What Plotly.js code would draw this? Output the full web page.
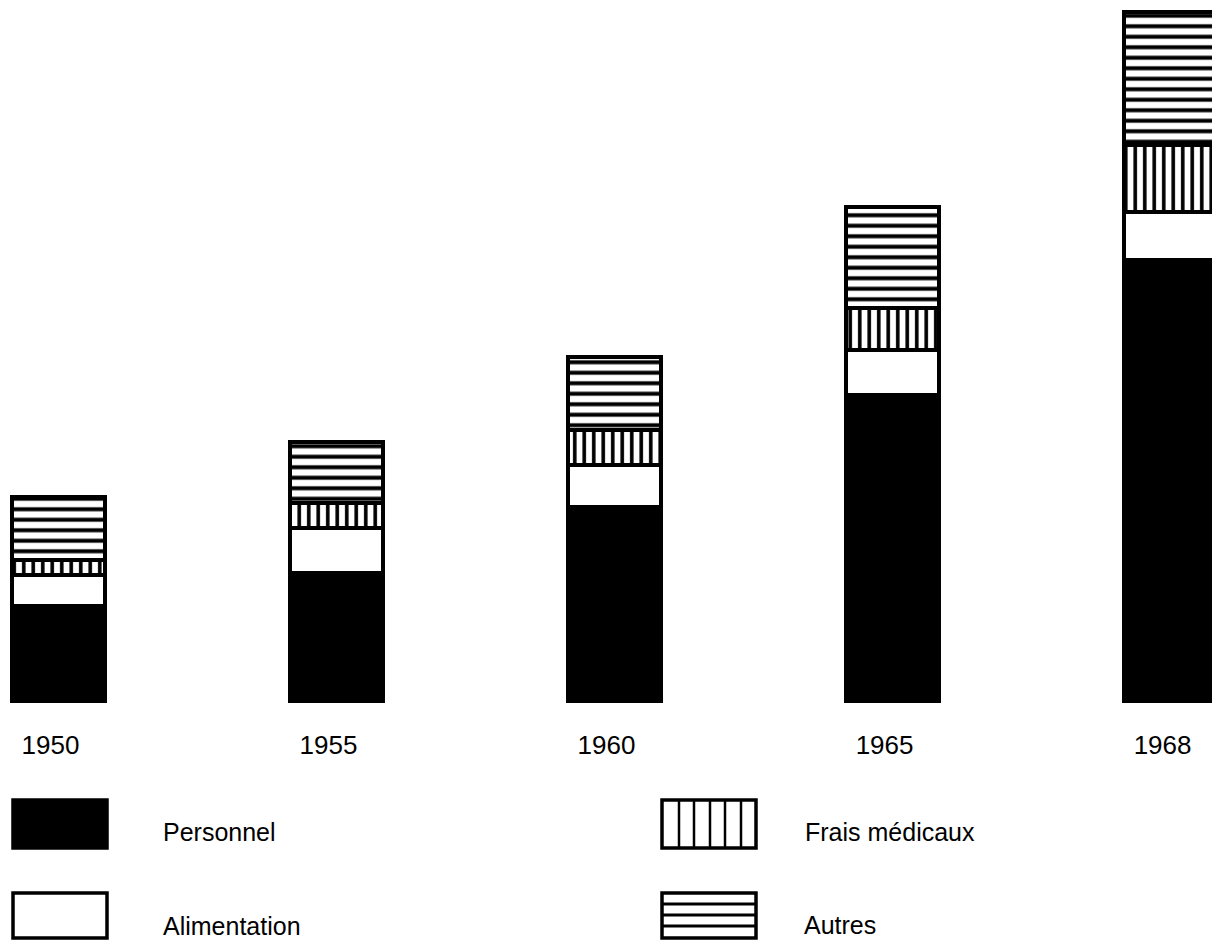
<!DOCTYPE html>
<html>
<head>
<meta charset="utf-8">
<script src="https://cdn.plot.ly/plotly-3.0.1.min.js"></script>
<style>html,body{margin:0;padding:0;background:#fff;}#chart{width:1212px;height:940px;}</style>
</head>
<body>
<div id="chart"></div>
<script>
// Data (heights, arbitrary units)
const years = ['1950', '1955', '1960', '1965', '1968'];
const personnel = [97, 130, 196, 308, 443];
const alimentation = [31, 45, 42, 45, 48];
const fraisMedicaux = [15, 25, 35, 42, 67];
const autres = [63, 61, 73, 101, 133];
const seriesNames = ['Personnel', 'Alimentation', 'Frais médicaux', 'Autres'];

const W = 1212, H = 940, B = 237;
const PH = H - B;
const px = x => x / W;
const py = y => (PH - y) / PH;

const FONT = 'Liberation Sans, Arial, Helvetica, sans-serif';
const LW = 3.5;
const barW = 0.335;

function barTrace(name, vals, fill, pattern) {
  const t = {
    type: 'bar', name: name, x: years, y: vals, width: barW,
    marker: { color: fill, line: { color: '#000', width: LW } },
    hoverinfo: 'skip', showlegend: false
  };
  if (pattern) t.marker.pattern = pattern;
  return t;
}

const data = [
  barTrace(seriesNames[0], personnel, '#000'),
  barTrace(seriesNames[1], alimentation, '#fff'),
  barTrace(seriesNames[2], fraisMedicaux, '#fff', { shape: '|', size: 9.5, solidity: 0.38, fgcolor: '#000', bgcolor: '#fff', fillmode: 'replace' }),
  barTrace(seriesNames[3], autres, '#fff', { shape: '-', size: 10.5, solidity: 0.38, fgcolor: '#000', bgcolor: '#fff', fillmode: 'replace' })
];

// Legend drawn as decorations
const shapes = [];
const annotations = [];
function rect(x0, y0, x1, y1, fill) {
  shapes.push({ type: 'rect', xref: 'paper', yref: 'paper', x0: px(x0), x1: px(x1), y0: py(y0), y1: py(y1),
    fillcolor: fill, line: { color: '#000', width: LW } });
}
function line(x0, y0, x1, y1, w) {
  shapes.push({ type: 'line', xref: 'paper', yref: 'paper', x0: px(x0), x1: px(x1), y0: py(y0), y1: py(y1),
    line: { color: '#000', width: w } });
}
function label(x, y, text) {
  annotations.push({ xref: 'paper', yref: 'paper', x: px(x), y: py(y), text: text, showarrow: false,
    xanchor: 'left', yanchor: 'middle', font: { family: FONT, size: 25, color: '#000' } });
}
rect(13, 800, 107, 848, '#000');
label(161, 832, seriesNames[0]);
rect(13, 893, 107, 938, '#fff');
label(161, 926, seriesNames[1]);
rect(662, 800, 756, 848, '#fff');
[679, 694, 710, 725, 741].forEach(x => line(x, 800, x, 848, 2.5));
label(803, 832, seriesNames[2]);
rect(662, 893, 756, 938, '#fff');
[904, 915, 926].forEach(y => line(662, y, 756, y, 3));
label(802, 925, seriesNames[3]);

const layout = {
  width: W, height: H,
  margin: { l: 0, r: 0, t: 0, b: B, pad: 0 },
  paper_bgcolor: '#fff', plot_bgcolor: '#fff',
  barmode: 'stack',
  showlegend: false,
  xaxis: {
    type: 'category', range: [-0.2104, 4.149],
    showgrid: false, zeroline: false, showline: false, ticks: '',
    tickfont: { family: FONT, size: 26, color: '#000' },
    ticklabelstandoff: 24, ticklabelshift: -8, fixedrange: true
  },
  yaxis: { range: [0, PH], visible: false, fixedrange: true },
  shapes: shapes,
  annotations: annotations,
  font: { family: FONT, color: '#000' }
};

Plotly.newPlot('chart', data, layout, { displayModeBar: false, staticPlot: true });
</script>
</body>
</html>
